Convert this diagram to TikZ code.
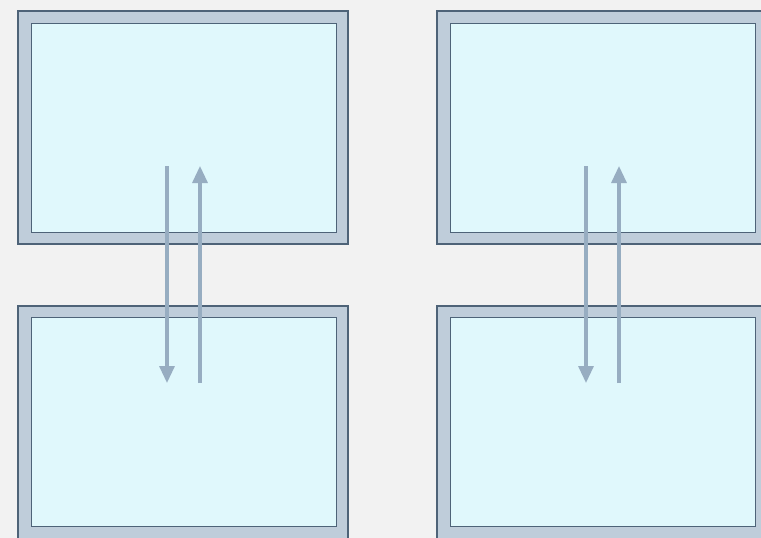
\documentclass[tikz,border=0pt]{standalone}
\usepackage{tikz}
\usetikzlibrary{arrows.meta,calc}
\definecolor{Back}{HTML}{F2F2F2}
\definecolor{Frame}{HTML}{BFCDDA}
\definecolor{Edge}{HTML}{4E6378}
\definecolor{Pane}{HTML}{E0F8FC}
\definecolor{Flow}{HTML}{97ADC1}
\begin{document}
\begin{tikzpicture}[x=1pt,y=-1pt,
  frame/.style={draw=Edge,fill=Frame,line width=1.3pt,minimum width=330pt,
    minimum height=233pt,inner sep=0pt},
  pane/.style={draw=Edge,fill=Pane,line width=0.9pt,minimum width=305pt,
    minimum height=209pt,inner sep=0pt},
  flow/.style={draw=Flow,line width=3.2pt,
    -{Triangle[length=17pt,width=15pt]}}]
  \fill[Back] (0,0) rectangle (761,538);
  \useasboundingbox (0,0) rectangle (761,538);
  \clip (0,0) rectangle (761,538);
  % four windows
  \node[frame] (tlf) at (183,127.5) {};
  \node[pane] (tl) at (183.5,127.5) {};
  \node[frame] (blf) at (183,422.5) {};
  \node[pane] (bl) at (183.5,422) {};
  \node[frame] (trf) at (602,127.5) {};
  \node[pane] (tr) at (602.5,127.5) {};
  \node[frame] (brf) at (602,422.5) {};
  \node[pane] (br) at (602.5,422) {};
  % exchange arrows
  \coordinate (ld1) at ($(tl.center)+(-16.5,38.5)$);
  \coordinate (ld2) at ($(bl.center)+(-16.5,-39)$);
  \coordinate (lu1) at ($(bl.center)+(16.5,-39)$);
  \coordinate (lu2) at ($(tl.center)+(16.5,38.5)$);
  \coordinate (rd1) at ($(tr.center)+(-16.5,38.5)$);
  \coordinate (rd2) at ($(br.center)+(-16.5,-39)$);
  \coordinate (ru1) at ($(br.center)+(16.5,-39)$);
  \coordinate (ru2) at ($(tr.center)+(16.5,38.5)$);
  \draw[flow] (ld1) -- (ld2);
  \draw[flow] (lu1) -- (lu2);
  \draw[flow] (rd1) -- (rd2);
  \draw[flow] (ru1) -- (ru2);
\end{tikzpicture}
\end{document}
